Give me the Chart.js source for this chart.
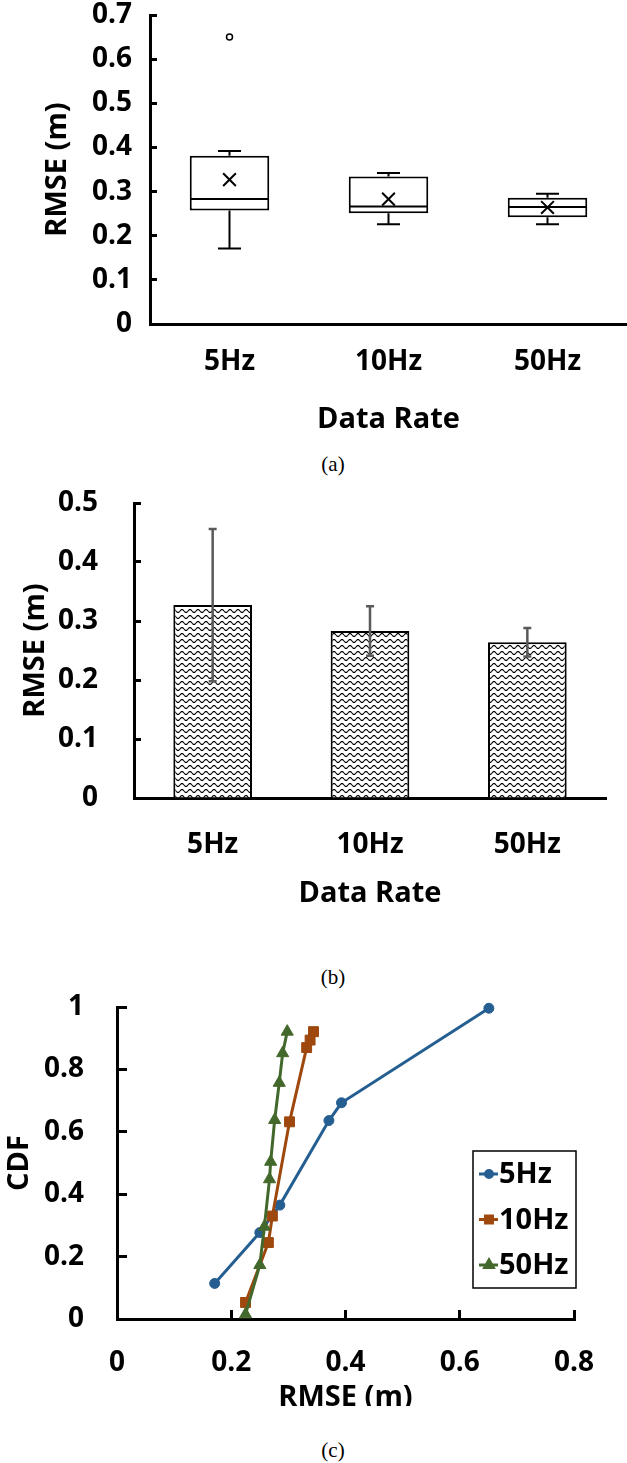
<!DOCTYPE html>
<html>
<head>
<meta charset="utf-8">
<script src="https://cdn.jsdelivr.net/npm/chart.js@4.4.1/dist/chart.umd.min.js"></script>
<style>
  html, body { margin: 0; padding: 0; background: #fff; }
  body { position: relative; width: 627px; height: 1463px; overflow: hidden; }
  .panel { position: absolute; left: 0; width: 627px; overflow: hidden; }
  .panel canvas { display: block; }
  .caption { position: absolute; left: 0; width: 666px; height: 24px; line-height: 24px;
             text-align: center; font: 21px "Liberation Serif", "Times New Roman", serif; color: #000; }
</style>
</head>
<body>
<div class="panel" style="top:0;height:445px"><canvas id="boxChart" width="627" height="445"></canvas></div>
<div class="caption" style="top:452px">(a)</div>
<div class="panel" style="top:470px;height:490px"><canvas id="barChart" width="627" height="490"></canvas></div>
<div class="caption" style="top:965px">(b)</div>
<div class="panel" style="top:990px;height:416px"><canvas id="cdfChart" width="627" height="473"></canvas></div>
<div class="caption" style="top:1438px">(c)</div>

<script>
const rateLabels = ['5Hz', '10Hz', '50Hz'];

// per-rate RMSE summary (m)
const rmseMin = [0.171, 0.226, 0.226];
const rmseQ1 = [0.257, 0.251, 0.242];
const rmseMedian = [0.283, 0.266, 0.265];
const rmseQ3 = [0.381, 0.334, 0.286];
const rmseMax = [0.392, 0.342, 0.295];
const rmseMean = [0.327, 0.283, 0.264];
const rmseOutlier = [0.650, null, null];
const rmseStd = [0.129, 0.042, 0.024];

// empirical CDF points
const cdf5Rmse = [0.171, 0.250, 0.285, 0.371, 0.393, 0.651];
const cdf5Prob = [0.114, 0.277, 0.365, 0.636, 0.693, 0.996];
const cdf10Rmse = [0.225, 0.265, 0.272, 0.302, 0.332, 0.338, 0.344];
const cdf10Prob = [0.053, 0.245, 0.330, 0.632, 0.870, 0.894, 0.921];
const cdf50Rmse = [0.225, 0.250, 0.258, 0.267, 0.269, 0.276, 0.284, 0.290, 0.298];
const cdf50Prob = [0.015, 0.173, 0.296, 0.448, 0.504, 0.638, 0.757, 0.852, 0.921];

Chart.defaults.font.family = '"Open Sans"';
Chart.defaults.font.weight = 'bold';
Chart.defaults.font.size = 28;
Chart.defaults.color = '#000';

const titleFont = { size: 29, weight: 'bold' };
const plainNumber = (v) => String(Number(Number(v).toFixed(2)));

// y axis with ticks pointing into the plot
function valueAxis(min, max, step, labelPad, titleText, titlePad, width, tickLen) {
  return {
    min: min, max: max,
    ticks: { stepSize: step, padding: labelPad, callback: plainNumber },
    grid: { drawOnChartArea: false, tickLength: -tickLen, tickColor: '#000', tickWidth: 3 },
    border: { color: '#000', width: 3 },
    title: { display: true, text: titleText, font: titleFont, padding: { top: titlePad, bottom: 0 } },
    afterFit: (scale) => { scale.width = width; scale.paddingTop = 0; scale.paddingBottom = 0; }
  };
}

function categoryAxis(labelPad, titlePad, height) {
  return {
    grid: { display: false, drawTicks: false },
    border: { color: '#000', width: 3 },
    ticks: { padding: labelPad },
    title: { display: true, text: 'Data Rate', font: titleFont, padding: { top: 0, bottom: titlePad } },
    afterFit: (scale) => { scale.height = height; scale.paddingLeft = 0; scale.paddingRight = 0; }
  };
}

const quiet = { legend: { display: false }, tooltip: { enabled: false } };

// whiskers and median lines on top of the floating boxes
const boxWhiskers = {
  id: 'boxWhiskers',
  afterDatasetsDraw(chart) {
    const { ctx, scales: { x, y } } = chart;
    const boxes = chart.getDatasetMeta(0).data;
    ctx.save();
    ctx.strokeStyle = '#000';
    ctx.lineWidth = 2;
    rateLabels.forEach((_, i) => {
      const cx = x.getPixelForValue(i);
      const half = boxes[i].width / 2 - 1;
      const cap = boxes[i].width * 0.145;
      const yMed = y.getPixelForValue(rmseMedian[i]);
      const yHi = y.getPixelForValue(rmseMax[i]);
      const yLo = y.getPixelForValue(rmseMin[i]);
      ctx.beginPath();
      ctx.moveTo(cx - half, yMed); ctx.lineTo(cx + half, yMed);
      ctx.moveTo(cx, y.getPixelForValue(rmseQ3[i])); ctx.lineTo(cx, yHi);
      ctx.moveTo(cx - cap, yHi); ctx.lineTo(cx + cap, yHi);
      ctx.moveTo(cx, y.getPixelForValue(rmseQ1[i])); ctx.lineTo(cx, yLo);
      ctx.moveTo(cx - cap, yLo); ctx.lineTo(cx + cap, yLo);
      ctx.stroke();
    });
    ctx.restore();
  }
};

new Chart(document.getElementById('boxChart'), {
  type: 'bar',
  data: {
    labels: rateLabels,
    datasets: [
      {
        data: rmseQ1.map((q, i) => [q, rmseQ3[i]]), order: 2,
        backgroundColor: '#fff', borderColor: '#000', borderWidth: 2, borderSkipped: false,
        barPercentage: 0.5, categoryPercentage: 1.0
      },
      {
        type: 'line', data: rmseMean, order: 0, showLine: false, clip: false,
        pointStyle: 'crossRot', pointRadius: 9, pointBorderWidth: 2, pointBorderColor: '#000'
      },
      {
        type: 'line', data: rmseOutlier, order: 0, showLine: false, clip: false,
        pointStyle: 'circle', pointRadius: 3, pointBorderWidth: 1.5,
        pointBorderColor: '#000', pointBackgroundColor: '#fff'
      }
    ]
  },
  options: {
    responsive: false, animation: false, events: [],
    layout: { padding: { top: 15, right: 0, left: 0, bottom: 0 }, autoPadding: false },
    scales: {
      x: categoryAxis(21, 8, 121),
      y: valueAxis(0, 0.7, 0.1, 25, 'RMSE (m)', 40, 150, 7)
    },
    plugins: quiet
  },
  plugins: [boxWhiskers]
});

// wavy hatch used to fill the bars
function waveFill() {
  const tile = document.createElement('canvas');
  tile.width = 8; tile.height = 6;
  const g = tile.getContext('2d');
  g.fillStyle = '#fff';
  g.fillRect(0, 0, 8, 6);
  g.strokeStyle = '#000';
  g.lineWidth = 1.1;
  g.beginPath();
  for (let px = -1; px <= 9; px += 0.5) {
    const py = 3 + 1.5 * Math.sin(px / 8 * 2 * Math.PI);
    if (px === -1) g.moveTo(px, py); else g.lineTo(px, py);
  }
  g.stroke();
  return g.createPattern(tile, 'repeat');
}

const errorBars = {
  id: 'errorBars',
  afterDatasetsDraw(chart) {
    const { ctx, scales: { x, y } } = chart;
    ctx.save();
    ctx.strokeStyle = '#5a5a5a';
    ctx.lineWidth = 2.5;
    rmseMean.forEach((m, i) => {
      const cx = x.getPixelForValue(i);
      const top = y.getPixelForValue(m + rmseStd[i]);
      const bot = y.getPixelForValue(m - rmseStd[i]);
      ctx.beginPath();
      ctx.moveTo(cx, top); ctx.lineTo(cx, bot);
      ctx.moveTo(cx - 4, top); ctx.lineTo(cx + 4, top);
      ctx.moveTo(cx - 4, bot); ctx.lineTo(cx + 4, bot);
      ctx.stroke();
    });
    ctx.restore();
  }
};

new Chart(document.getElementById('barChart'), {
  type: 'bar',
  data: {
    labels: rateLabels,
    datasets: [{
      data: rmseMean,
      backgroundColor: waveFill(), borderColor: '#000', borderWidth: 2, borderSkipped: 'bottom',
      barPercentage: 0.5, categoryPercentage: 1.0
    }]
  },
  options: {
    responsive: false, animation: false, events: [],
    layout: { padding: { top: 33, right: 21, left: 0, bottom: 0 }, autoPadding: false },
    scales: {
      x: categoryAxis(30, 49, 162),
      y: valueAxis(0, 0.5, 0.1, 43, 'RMSE (m)', 18, 134, 7)
    },
    plugins: quiet
  },
  plugins: [errorBars]
});

// legend drawn inside a framed box over the plot
const boxedLegend = {
  id: 'boxedLegend',
  afterDraw(chart, args, opts) {
    const { ctx } = chart;
    ctx.save();
    ctx.fillStyle = '#fff';
    ctx.fillRect(opts.left, opts.top, opts.width, opts.height);
    ctx.strokeStyle = '#000';
    ctx.lineWidth = 1.5;
    ctx.strokeRect(opts.left, opts.top, opts.width, opts.height);
    chart.data.datasets.forEach((ds, i) => {
      const cy = opts.top + opts.firstRow + i * opts.rowGap;
      const sx = opts.left + 6;
      ctx.strokeStyle = ds.borderColor;
      ctx.fillStyle = ds.backgroundColor;
      ctx.lineWidth = 3;
      ctx.beginPath();
      ctx.moveTo(sx, cy); ctx.lineTo(sx + 19, cy);
      ctx.stroke();
      Chart.helpers.drawPoint(ctx, { pointStyle: ds.pointStyle, radius: ds.pointRadius * 0.7, borderWidth: 1, rotation: 0 }, sx + 10, cy);
      ctx.fillStyle = '#000';
      ctx.font = 'bold 29px "Open Sans"';
      ctx.textBaseline = 'middle';
      ctx.fillText(ds.label, sx + 20, cy + 1);
    });
    ctx.restore();
  }
};

function cdfSeries(label, xs, ys, color, style, radius) {
  return {
    label: label,
    data: xs.map((x, i) => ({ x: x, y: ys[i] })),
    showLine: true, clip: false,
    borderColor: color, backgroundColor: color, borderWidth: 3,
    pointStyle: style, pointRadius: radius, pointBorderWidth: 1,
    pointBackgroundColor: color, pointBorderColor: color
  };
}

new Chart(document.getElementById('cdfChart'), {
  type: 'scatter',
  data: {
    datasets: [
      Object.assign(cdfSeries('5Hz', cdf5Rmse, cdf5Prob, '#255E91', 'circle', 5), { order: 3 }),
      Object.assign(cdfSeries('10Hz', cdf10Rmse, cdf10Prob, '#9E480E', 'rect', 7), { order: 2 }),
      Object.assign(cdfSeries('50Hz', cdf50Rmse, cdf50Prob, '#43682B', 'triangle', 7), { order: 1 })
    ]
  },
  options: {
    responsive: false, animation: false, events: [],
    layout: { padding: { top: 17, right: 53, left: 0, bottom: 0 }, autoPadding: false },
    scales: {
      x: {
        type: 'linear', min: 0, max: 0.8,
        ticks: { stepSize: 0.2, padding: 36, callback: plainNumber },
        grid: { drawOnChartArea: false, tickLength: -9, tickColor: '#000', tickWidth: 3 },
        border: { color: '#000', width: 3 },
        title: { display: true, text: 'RMSE (m)', font: titleFont, padding: { top: 0, bottom: 48 } },
        afterFit: (scale) => { scale.height = 144; scale.paddingLeft = 0; scale.paddingRight = 0; }
      },
      y: valueAxis(0, 1, 0.2, 43, 'CDF', 2, 117, 10)
    },
    plugins: Object.assign({}, quiet, {
      boxedLegend: { left: 473, top: 161, width: 103, height: 137, firstRow: 23, rowGap: 45.5 }
    })
  },
  plugins: [boxedLegend]
});
</script>
</body>
</html>
